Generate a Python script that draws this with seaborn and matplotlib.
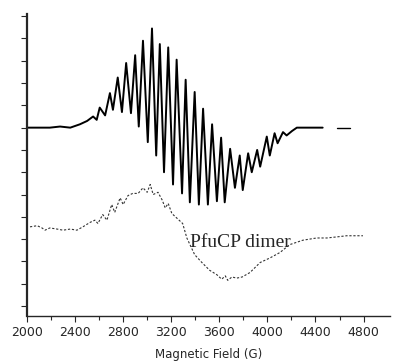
import pandas as pd
import matplotlib.pyplot as plt
import seaborn as sns

top_field = [2000, 2190, 2275, 2360, 2440, 2500, 2550, 2580, 2605, 2650, 2690, 2715,
             2755, 2790, 2825, 2865, 2900, 2930, 2965, 3005, 3040, 3075, 3105, 3140,
             3175, 3215, 3245, 3290, 3320, 3355, 3395, 3430, 3465, 3505, 3540, 3580,
             3615, 3645, 3690, 3730, 3770, 3795, 3840, 3870, 3915, 3940, 3995, 4020,
             4060, 4085, 4130, 4160, 4205, 4245, 4460]
top_signal = [8.0, 8.0, 8.05, 8.0, 8.15, 8.3, 8.5, 8.35, 8.9, 8.55, 9.55, 8.8,
              10.25, 8.7, 10.9, 8.65, 11.25, 8.05, 11.9, 7.35, 12.45, 6.75, 11.75, 6.0,
              11.6, 5.45, 11.05, 5.05, 10.15, 4.65, 9.6, 4.55, 8.85, 4.55, 8.15, 4.7,
              7.55, 4.65, 7.05, 5.3, 6.75, 5.2, 6.85, 6.0, 7.0, 6.25, 7.6, 6.75,
              7.75, 7.3, 7.8, 7.65, 7.85, 8.0, 8.0]
tail_field = [4580, 4685]
tail_signal = [8.0, 8.0]

# lower spectrum (dotted), PfuCP dimer
dimer_field = [2025, 2085, 2125, 2150, 2190, 2250, 2300, 2360, 2415, 2465, 2525, 2565,
               2590, 2630, 2665, 2705, 2730, 2775, 2800, 2840, 2880, 2925, 2965, 3000,
               3025, 3050, 3090, 3125, 3150, 3175, 3205, 3295, 3330, 3395, 3455, 3520,
               3580, 3620, 3650, 3670, 3705, 3745, 3790, 3855, 3940, 4020, 4105, 4185,
               4295, 4410, 4495, 4580, 4660, 4795]
dimer_signal = [3.55, 3.6, 3.5, 3.4, 3.5, 3.45, 3.4, 3.45, 3.4, 3.55, 3.75, 3.85,
                3.7, 4.1, 3.85, 4.55, 4.2, 4.85, 4.55, 4.95, 5.05, 5.05, 5.3, 5.1,
                5.45, 5.0, 5.1, 4.75, 4.4, 4.6, 4.15, 3.7, 3.05, 2.3, 1.95, 1.6,
                1.4, 1.2, 1.35, 1.15, 1.3, 1.25, 1.3, 1.5, 1.95, 2.15, 2.4, 2.75,
                2.95, 3.05, 3.05, 3.1, 3.15, 3.15]

x_ticks = [2000, 2400, 2800, 3200, 3600, 4000, 4400, 4800]

top = pd.DataFrame({'field': top_field, 'signal': top_signal})
tail = pd.DataFrame({'field': tail_field, 'signal': tail_signal})
dimer = pd.DataFrame({'field': dimer_field, 'signal': dimer_signal})

sns.set_style('ticks')
plt.rcParams['font.family'] = ['Liberation Sans Narrow', 'DejaVu Sans']

fig = plt.figure(figsize=(3.94, 3.63), dpi=100)
ax = fig.add_axes([0.0685, 0.1295, 0.921, 0.832])

sns.lineplot(data=top, x='field', y='signal', sort=False, color='black', linewidth=1.4, ax=ax)
sns.lineplot(data=tail, x='field', y='signal', sort=False, color='black', linewidth=1.0, ax=ax)
sns.lineplot(data=dimer, x='field', y='signal', sort=False, color='#333333',
             linewidth=0.8, linestyle=(0, (2, 1.6)), ax=ax)

# label overlaps the dimer trace, as in the original figure
ax.text(3355, 2.85, 'PfuCP dimer', family=['Liberation Serif', 'DejaVu Serif'],
        fontsize=14, ha='left', va='center')

ax.set_xlim(2000, 5019)
ax.set_ylim(-0.45, 13.1)
ax.set_xticks(x_ticks)
ax.set_xticks(range(2200, 5000, 400), minor=True)
ax.set_yticks(range(0, 14))
ax.set_yticklabels([])
ax.tick_params(axis='x', which='major', length=4, width=0.8, labelsize=9, pad=3)
ax.tick_params(axis='x', which='minor', length=3, width=0.8)
ax.tick_params(axis='y', length=4, width=0.8)

ax.set_xlabel('Magnetic Field (G)', fontsize=8.5, labelpad=7)
ax.set_ylabel('')
sns.despine(ax=ax)
ax.spines['left'].set_linewidth(1.6)
ax.spines['bottom'].set_linewidth(1.0)

fig.savefig('out.png', dpi=100)
